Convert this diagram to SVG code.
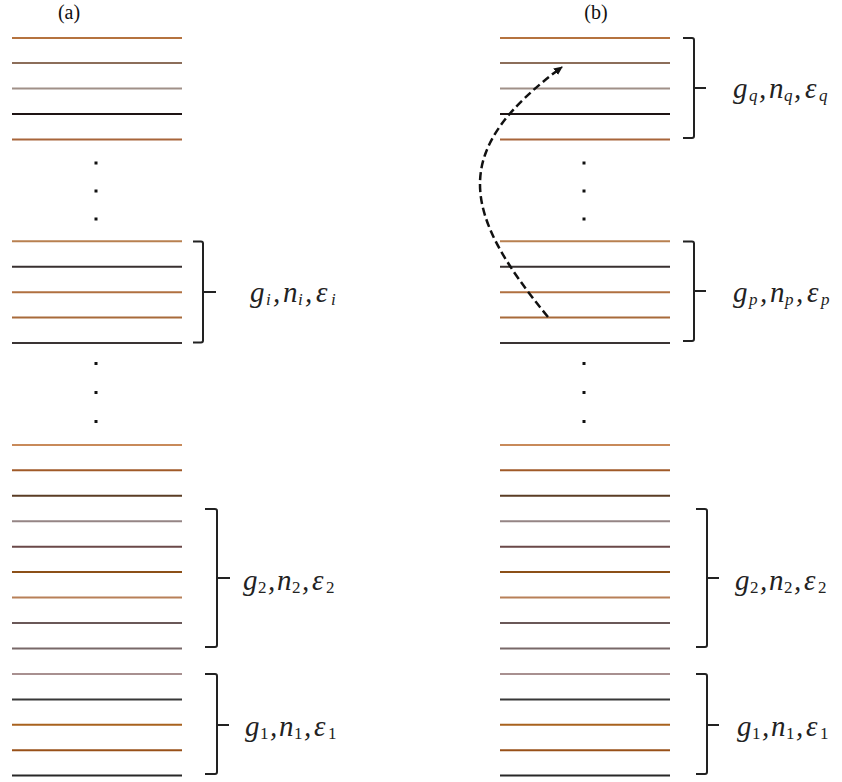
<svg xmlns="http://www.w3.org/2000/svg" width="842" height="782" viewBox="0 0 842 782">
<style>
.ln{stroke-width:2;fill:none}
.br{stroke:#222;stroke-width:2;fill:none}
.dot{fill:#111}
.t{font-family:"Liberation Serif","DejaVu Serif",serif;font-size:29px;font-style:italic;fill:#222}
.s{font-size:17px}
.d{font-style:normal}
.ttl{font-family:"Liberation Serif",serif;font-size:20px;fill:#111}
</style>
<defs>
<g id="stack">
<line class="ln" x1="0" x2="170" y1="38" y2="38" stroke="#b5733f"/>
<line class="ln" x1="0" x2="170" y1="63" y2="63" stroke="#8c6e5a"/>
<line class="ln" x1="0" x2="170" y1="88.5" y2="88.5" stroke="#a09088"/>
<line class="ln" x1="0" x2="170" y1="114" y2="114" stroke="#1e1414"/>
<line class="ln" x1="0" x2="170" y1="139.5" y2="139.5" stroke="#a8653a"/>
<rect class="dot" x="82.5" y="161.5" width="3" height="3"/>
<rect class="dot" x="82.5" y="189.5" width="3" height="3"/>
<rect class="dot" x="82.5" y="217.5" width="3" height="3"/>
<line class="ln" x1="0" x2="170" y1="241.3" y2="241.3" stroke="#b88050"/>
<line class="ln" x1="0" x2="170" y1="266.7" y2="266.7" stroke="#383030"/>
<line class="ln" x1="0" x2="170" y1="292.2" y2="292.2" stroke="#b07040"/>
<line class="ln" x1="0" x2="170" y1="317.6" y2="317.6" stroke="#a86a3a"/>
<line class="ln" x1="0" x2="170" y1="343" y2="343" stroke="#3a3434"/>
<rect class="dot" x="82.5" y="362" width="3" height="3"/>
<rect class="dot" x="82.5" y="391" width="3" height="3"/>
<rect class="dot" x="82.5" y="420" width="3" height="3"/>
<line class="ln" x1="0" x2="170" y1="444.9" y2="444.9" stroke="#c88a5a"/>
<line class="ln" x1="0" x2="170" y1="470.3" y2="470.3" stroke="#a05a28"/>
<line class="ln" x1="0" x2="170" y1="495.8" y2="495.8" stroke="#5a3c24"/>
<line class="ln" x1="0" x2="170" y1="521.2" y2="521.2" stroke="#958585"/>
<line class="ln" x1="0" x2="170" y1="546.7" y2="546.7" stroke="#6a4848"/>
<line class="ln" x1="0" x2="170" y1="572.1" y2="572.1" stroke="#8c5018"/>
<line class="ln" x1="0" x2="170" y1="597.6" y2="597.6" stroke="#b88058"/>
<line class="ln" x1="0" x2="170" y1="623" y2="623" stroke="#6a5858"/>
<line class="ln" x1="0" x2="170" y1="648.5" y2="648.5" stroke="#786868"/>
<line class="ln" x1="0" x2="170" y1="673.9" y2="673.9" stroke="#a89090"/>
<line class="ln" x1="0" x2="170" y1="699.4" y2="699.4" stroke="#383838"/>
<line class="ln" x1="0" x2="170" y1="724.8" y2="724.8" stroke="#a8621e"/>
<line class="ln" x1="0" x2="170" y1="750.3" y2="750.3" stroke="#985018"/>
<line class="ln" x1="0" x2="170" y1="775.5" y2="775.5" stroke="#282828"/>
</g>
<marker id="ah" markerWidth="10" markerHeight="10" refX="8" refY="5" orient="auto" markerUnits="userSpaceOnUse">
<path d="M0,1 L9,5 L0,9 Z" fill="#111" stroke="none"/>
</marker>
</defs>

<text class="ttl" x="69" y="19" text-anchor="middle">(a)</text>
<text class="ttl" x="596" y="19" text-anchor="middle">(b)</text>

<g id="stack-a" transform="translate(12,0)">
<use href="#stack"/>
</g>
<g id="stack-b" transform="translate(500,0)">
<use href="#stack"/>
</g>

<g id="brace-ai">
<path class="br" d="M193,241.5 H201 Q203,241.5 203,243.5 V340.5 Q203,342.5 201,342.5 H193 M203,292 H216"/>
<text class="t" y="302"><tspan x="250">g</tspan><tspan class="s" x="266" dy="3">i</tspan><tspan x="273" dy="-3">,</tspan><tspan x="283">n</tspan><tspan class="s" x="298" dy="3">i</tspan><tspan x="305" dy="-3">,</tspan><tspan x="316">ε</tspan><tspan class="s" x="331" dy="3">i</tspan></text>
</g>
<g id="brace-a2">
<path class="br" d="M205,509 H215 Q217,509 217,511 V645 Q217,647 215,647 H205 M217,578 H230"/>
<text class="t" y="590"><tspan x="243">g</tspan><tspan class="s d" x="258" dy="3">2</tspan><tspan x="268" dy="-3">,</tspan><tspan x="277">n</tspan><tspan class="s d" x="292" dy="3">2</tspan><tspan x="302" dy="-3">,</tspan><tspan x="312">ε</tspan><tspan class="s d" x="326" dy="3">2</tspan></text>
</g>
<g id="brace-a1">
<path class="br" d="M205,674 H215 Q217,674 217,676 V772 Q217,774 215,774 H205 M217,725 H229"/>
<text class="t" y="736"><tspan x="245">g</tspan><tspan class="s d" x="260" dy="3">1</tspan><tspan x="270" dy="-3">,</tspan><tspan x="279">n</tspan><tspan class="s d" x="294" dy="3">1</tspan><tspan x="304" dy="-3">,</tspan><tspan x="314">ε</tspan><tspan class="s d" x="328" dy="3">1</tspan></text>
</g>

<g id="brace-bq">
<path class="br" d="M683,38 H692 Q694,38 694,40 V136 Q694,138 692,138 H683 M694,88 H706"/>
<text class="t" y="98"><tspan x="733">g</tspan><tspan class="s" x="749" dy="3">q</tspan><tspan x="759" dy="-3">,</tspan><tspan x="769">n</tspan><tspan class="s" x="784" dy="3">q</tspan><tspan x="794" dy="-3">,</tspan><tspan x="805">ε</tspan><tspan class="s" x="819" dy="3">q</tspan></text>
</g>
<g id="brace-bp">
<path class="br" d="M683,241.5 H692 Q694,241.5 694,243.5 V339 Q694,341 692,341 H683 M694,291 H706"/>
<text class="t" y="302"><tspan x="733">g</tspan><tspan class="s" x="749" dy="3">p</tspan><tspan x="760" dy="-3">,</tspan><tspan x="770">n</tspan><tspan class="s" x="785" dy="3">p</tspan><tspan x="796" dy="-3">,</tspan><tspan x="807">ε</tspan><tspan class="s" x="821" dy="3">p</tspan></text>
</g>
<g id="brace-b2">
<path class="br" d="M696,509 H705 Q707,509 707,511 V645 Q707,647 705,647 H696 M707,578 H719"/>
<text class="t" y="590"><tspan x="735">g</tspan><tspan class="s d" x="750" dy="3">2</tspan><tspan x="760" dy="-3">,</tspan><tspan x="769">n</tspan><tspan class="s d" x="784" dy="3">2</tspan><tspan x="794" dy="-3">,</tspan><tspan x="804">ε</tspan><tspan class="s d" x="818" dy="3">2</tspan></text>
</g>
<g id="brace-b1">
<path class="br" d="M696,674 H705 Q707,674 707,676 V772 Q707,774 705,774 H696 M707,725 H719"/>
<text class="t" y="736"><tspan x="737">g</tspan><tspan class="s d" x="752" dy="3">1</tspan><tspan x="762" dy="-3">,</tspan><tspan x="771">n</tspan><tspan class="s d" x="786" dy="3">1</tspan><tspan x="796" dy="-3">,</tspan><tspan x="806">ε</tspan><tspan class="s d" x="820" dy="3">1</tspan></text>
</g>

<g id="connectors">
<path d="M548,317 C460,210 450,150 562,67" fill="none" stroke="#111" stroke-width="2.5" stroke-dasharray="8,4" marker-end="url(#ah)"/>
</g>
</svg>
